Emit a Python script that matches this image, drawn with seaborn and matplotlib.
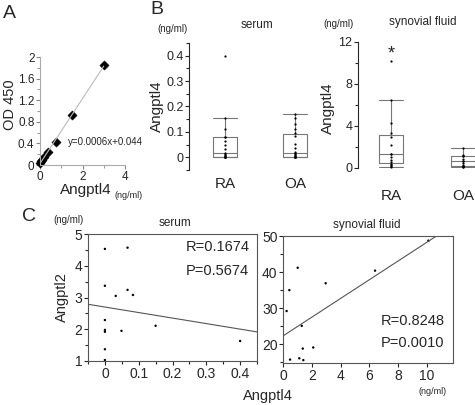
import matplotlib
matplotlib.use('Agg')
import matplotlib.pyplot as plt
from matplotlib.ticker import MultipleLocator, FuncFormatter
import seaborn as sns
import pandas as pd

sns.set_style('ticks')
plt.rcParams['font.family'] = ['Liberation Sans', 'DejaVu Sans']

# A: standard curve
std_conc = [0, 0.047, 0.094, 0.1875, 0.375, 0.75, 1.5, 3.0]
std_od = [0.045, 0.07, 0.10, 0.15, 0.24, 0.42, 0.92, 1.85]

# B: Angptl4 levels
serum_ra = [0, 0, 0, 0, 0, 0.005, 0.01, 0.012, 0.016, 0.033, 0.047, 0.063, 0.08, 0.08, 0.11, 0.153, 0.4]
serum_oa = [0, 0, 0, 0, 0, 0.005, 0.009, 0.012, 0.016, 0.02, 0.037, 0.053, 0.083, 0.097, 0.11, 0.133, 0.153, 0.17]
syn_ra = [0.1, 0.15, 0.25, 0.4, 0.57, 0.8, 1.05, 1.33, 1.37, 2.15, 2.95, 3.3, 4.3, 6.5, 10.2]
syn_oa = [0.1, 0.12, 0.15, 0.16, 0.3, 0.5, 0.63, 0.7, 0.85, 1.14, 1.16, 1.2, 1.9]

# C: Angptl4 vs Angptl2
ser_x = [0, 0.067, 0, 0.032, 0.067, 0.083, 0, 0, 0, 0.049, 0.15, 0, 0, 0.4]
ser_y = [4.53, 4.57, 3.37, 3.05, 3.24, 3.08, 2.29, 1.98, 1.92, 1.95, 2.11, 1.37, 1.03, 1.63]
syn_x = [1.02, 0.44, 0.25, 2.96, 6.39, 10.09, 1.30, 1.37, 2.10, 0.49, 1.13, 1.41]
syn_y = [41.2, 35.0, 29.2, 36.9, 40.4, 48.7, 25.1, 18.8, 19.1, 15.75, 16.1, 15.6]
# fitted lines (intercept, slope)
ser_fit = (2.70, -1.74)
syn_fit = (22.3, 2.6)

W, H = 475, 405


def rect(l, t, r, b):
    return [l / W, 1 - b / H, (r - l) / W, (b - t) / H]


def ftext(x, y, s, **kw):
    kw.setdefault('ha', 'center')
    kw.setdefault('va', 'center')
    fig.text(x / W, 1 - y / H, s, **kw)


fmt = FuncFormatter(lambda v, p: f'{v:g}')

fig = plt.figure(figsize=(4.75, 4.05), dpi=100)

# ---- A
axA = fig.add_axes(rect(40, 57, 125, 165))
sns.regplot(x=std_conc, y=std_od, ax=axA, scatter=False, ci=None, truncate=True,
            line_kws={'color': '#bbbbbb', 'lw': 0.8})
sns.scatterplot(x=std_conc, y=std_od, ax=axA, marker='D', s=22, color='black', edgecolor='black')
axA.set_xlim(0, 4)
axA.set_ylim(0, 2)
axA.xaxis.set_major_locator(MultipleLocator(2))
axA.xaxis.set_minor_locator(MultipleLocator(1))
axA.yaxis.set_major_locator(MultipleLocator(0.4))
axA.yaxis.set_minor_locator(MultipleLocator(0.2))
axA.yaxis.set_major_formatter(fmt)
sns.despine(ax=axA)
for s in ['left', 'bottom']:
    axA.spines[s].set_color('#aaaaaa')
    axA.spines[s].set_linewidth(0.8)
axA.tick_params(which='both', color='#888888', labelsize=8.5, pad=1)
axA.tick_params(which='major', length=3)
axA.tick_params(which='minor', length=2)
for c in axA.collections:
    c.set_clip_on(False)

ftext(3, 13, 'A', fontsize=14, ha='left')
ftext(10, 105, 'OD 450', fontsize=10.5, rotation=90)
ftext(86, 190, 'Angptl4', fontsize=11)
ftext(129, 196, '(ng/ml)', fontsize=6.5)
ftext(68, 142, 'y=0.0006x+0.044', fontsize=7, ha='left')


# ---- B
def box_panel(ax, ra, oa, ylim, major, minor):
    df = pd.DataFrame({'group': ['RA'] * len(ra) + ['OA'] * len(oa), 'val': ra + oa})
    sns.boxplot(data=df, x='group', y='val', ax=ax, fill=False, color='#777777', width=0.34,
                showfliers=False, linewidth=0.8, capwidths=0.34, whis=1.5)
    sns.stripplot(data=df, x='group', y='val', ax=ax, jitter=False, color='black', size=1.6)
    ax.set_ylim(*ylim)
    ax.set_xlabel('')
    ax.set_ylabel('')
    ax.yaxis.set_major_locator(MultipleLocator(major))
    ax.yaxis.set_minor_locator(MultipleLocator(minor))
    ax.yaxis.set_major_formatter(fmt)
    sns.despine(ax=ax, bottom=True)
    ax.spines['left'].set_linewidth(0.8)
    ax.tick_params(axis='y', which='both', labelsize=9, pad=1, width=0.8)
    ax.tick_params(axis='y', which='major', length=3)
    ax.tick_params(axis='y', which='minor', length=2)
    ax.tick_params(axis='x', length=0, labelsize=11)


axB1 = fig.add_axes(rect(189, 43, 331, 170))
box_panel(axB1, serum_ra, serum_oa, (-0.05, 0.45), 0.1, 0.05)
axB1.set_xlim(-0.51, 1.51)
axB1.tick_params(axis='x', pad=5)

axB2 = fig.add_axes(rect(358, 42, 475, 168))
box_panel(axB2, syn_ra, syn_oa, (0, 12), 4, 2)
axB2.set_xlim(-0.46, 1.17)
axB2.tick_params(axis='x', pad=15)
axB2.text(0, 10.9, '*', ha='center', va='center', fontsize=13)
for c in axB2.collections:
    c.set_clip_on(False)

ftext(150, 10, 'B', fontsize=14, ha='left')
ftext(173, 29, '(ng/ml)', fontsize=7)
ftext(257, 25, 'serum', fontsize=8.5)
ftext(157, 106, 'Angptl4', fontsize=11, rotation=90)
ftext(338, 24, '(ng/ml)', fontsize=7)
ftext(423, 22, 'synovial fluid', fontsize=8.5)
ftext(328, 108, 'Angptl4', fontsize=11, rotation=90)


# ---- C
def scatter_panel(ax, x, y, fit, xlim, ylim):
    sns.scatterplot(x=x, y=y, ax=ax, s=3, color='black', edgecolor='none')
    ax.axline((0, fit[0]), slope=fit[1], color='#555555', lw=0.8)
    ax.set_xlim(*xlim)
    ax.set_ylim(*ylim)
    for s in ax.spines.values():
        s.set_linewidth(0.8)
        s.set_color('#555555')
    ax.tick_params(which='both', labelsize=10, pad=1, width=0.8)
    ax.tick_params(which='major', length=3)
    ax.tick_params(which='minor', length=2)
    ax.xaxis.set_major_formatter(fmt)


axC1 = fig.add_axes(rect(88, 234, 257, 361))
scatter_panel(axC1, ser_x, ser_y, ser_fit, (-0.05, 0.45), (1, 5))
axC1.xaxis.set_major_locator(MultipleLocator(0.1))
axC1.xaxis.set_minor_locator(MultipleLocator(0.05))
axC1.yaxis.set_major_locator(MultipleLocator(1))
axC1.yaxis.set_minor_locator(MultipleLocator(0.5))
axC1.text(0.24, 4.59, 'R=0.1674', fontsize=10.5, va='center')
axC1.text(0.24, 3.83, 'P=0.5674', fontsize=10.5, va='center')

axC2 = fig.add_axes(rect(283, 236, 453, 363))
scatter_panel(axC2, syn_x, syn_y, syn_fit, (0, 11.8), (14.8, 50))
axC2.xaxis.set_major_locator(MultipleLocator(2))
axC2.yaxis.set_major_locator(MultipleLocator(10))
axC2.yaxis.set_minor_locator(MultipleLocator(5))
axC2.text(11.2, 26.4, 'R=0.8248', fontsize=10.5, va='center', ha='right')
axC2.text(11.2, 20.3, 'P=0.0010', fontsize=10.5, va='center', ha='right')

ftext(22, 217, 'C', fontsize=14, ha='left')
ftext(68, 220, '(ng/ml)', fontsize=7)
ftext(175, 223, 'serum', fontsize=8.5)
ftext(367, 225, 'synovial fluid', fontsize=8.5)
ftext(62, 297, 'Angptl2', fontsize=10.5, rotation=90)
ftext(268, 396, 'Angptl4', fontsize=10.5)
ftext(433, 392, '(ng/ml)', fontsize=6.5)

fig.savefig('out.png', dpi=100)
